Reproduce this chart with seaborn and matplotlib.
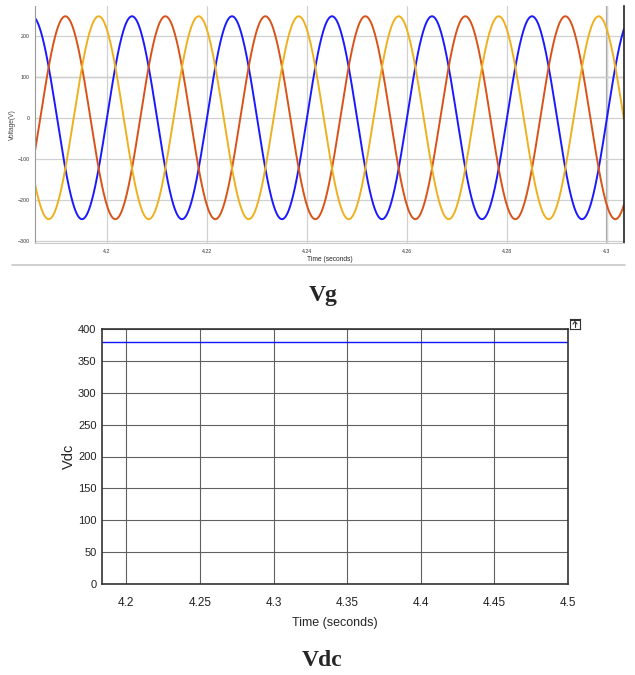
#!/usr/bin/env python3
"""
Grid voltage (three phase) and DC link voltage, two stacked scope views
"""

import numpy as np
import pandas as pd
import matplotlib
matplotlib.use('Agg')
import matplotlib.pyplot as plt
import seaborn as sns

# Three phase grid voltage
phase_names = ['Va', 'Vb', 'Vc']
phase_colors = ['#1a1aff', '#d95319', '#edb120']
phase_shift_deg = [0, -120, -240]
amplitude = 247          # V peak
freq_hz = 50
peak_time_a = 4.205      # first peak of phase a (s)
vg_window = [4.1856, 4.3034]
vg_yticks = [-300, -200, -100, 0, 100, 200]
vg_xticks = [4.2, 4.22, 4.24, 4.26, 4.28, 4.3]

# DC link voltage
vdc_time = [4.1835, 4.5]
vdc_value = [380, 380]
vdc_yticks = [0, 50, 100, 150, 200, 250, 300, 350, 400]
vdc_xticks = [4.2, 4.25, 4.3, 4.35, 4.4, 4.45, 4.5]

# build long-form frame for the sine waves
t = np.linspace(vg_window[0], vg_window[1], 3000)
frames = []
for name, shift in zip(phase_names, phase_shift_deg):
    v = amplitude * np.cos(2 * np.pi * freq_hz * (t - peak_time_a) + np.deg2rad(shift))
    frames.append(pd.DataFrame({'time': t, 'voltage': v, 'phase': name}))
vg = pd.concat(frames, ignore_index=True)
vdc = pd.DataFrame({'time': vdc_time, 'vdc': vdc_value})

sns.set_style('whitegrid')
plt.rcParams['font.family'] = ['Liberation Sans Narrow', 'Liberation Sans', 'DejaVu Sans']

fig = plt.figure(figsize=(6.35, 6.75), dpi=100)
W, H = 635, 675

def box(x0, y0, x1, y1):
    return [x0 / W, 1 - y1 / H, (x1 - x0) / W, (y1 - y0) / H]

# ---- top: Vg ----
ax1 = fig.add_axes(box(35, 6, 624, 243))
sns.lineplot(data=vg, x='time', y='voltage', hue='phase', palette=phase_colors,
             linewidth=1.4, legend=False, ax=ax1, estimator=None, sort=False)
ax1.set_xlim(vg_window)
ax1.set_ylim(-305, 272)
ax1.set_xticks(vg_xticks)
ax1.set_xticklabels([f'{x:g}' for x in vg_xticks])
ax1.set_yticks(vg_yticks)
ax1.tick_params(labelsize=3.8, length=2, pad=2, colors='#333333')
ax1.grid(True, color='#d0d0d0', linewidth=0.9)
ax1.set_xlabel('Time (seconds)', fontsize=4.8, labelpad=2)
ax1.set_ylabel('Voltage(V)', fontsize=4.8, labelpad=1, color='#444444')
ax1.spines['top'].set_visible(False)
ax1.spines['left'].set_color('#999999')
ax1.spines['bottom'].set_color('#cccccc')
ax1.spines['right'].set_color('#222222')
ax1.spines['right'].set_linewidth(1.2)
ax1.axvline(4.3, color='#aaaaaa', linewidth=1.6, zorder=0)
ax1.axhline(100, color='#999999', linewidth=0.9, zorder=0)

# separator line under the screenshot
fig.add_artist(plt.Line2D([12 / W, 625 / W], [1 - 265 / H] * 2, color='#c8c8c8', linewidth=1.2))

fig.text(323 / W, 1 - 296 / H, 'Vg', ha='center', va='center', fontsize=17,
         fontweight='bold', family=['Liberation Serif', 'DejaVu Serif'])

# ---- bottom: Vdc ----
ax2 = fig.add_axes(box(102, 329, 568, 584))
sns.lineplot(data=vdc, x='time', y='vdc', color='#1414ff', linewidth=1.0, ax=ax2)
ax2.set_xlim(vdc_time[0], 4.5)
ax2.set_ylim(0, 400)
ax2.set_xticks(vdc_xticks)
ax2.set_xticklabels([f'{x:g}' for x in vdc_xticks])
ax2.set_yticks(vdc_yticks)
ax2.grid(True, color='#606060', linewidth=0.8)
ax2.tick_params(labelsize=8, length=3, direction='in', pad=4, colors='#222222')
ax2.tick_params(axis='x', pad=9, labelsize=8.5)
ax2.set_xlabel('Time (seconds)', fontsize=9, labelpad=6)
ax2.set_ylabel('Vdc', fontsize=10.5, va='center')
ax2.yaxis.set_label_coords(-0.072, 0.5)
for s in ax2.spines.values():
    s.set_color('#333333')
    s.set_linewidth(1.2)

# small dock icon at the top right of the scope
icon = fig.add_axes(box(570, 319, 580, 329))
icon.set_xticks([])
icon.set_yticks([])
icon.set_facecolor('white')
for s in icon.spines.values():
    s.set_color('#333333')
icon.plot([0.5, 0.5], [0.2, 0.7], color='#333333', linewidth=0.8)
icon.plot([0.3, 0.5, 0.7], [0.5, 0.75, 0.5], color='#333333', linewidth=0.8)
icon.axhline(0.88, color='#333333', linewidth=0.8)
icon.set_xlim(0, 1)
icon.set_ylim(0, 1)

fig.text(322 / W, 1 - 660 / H, 'Vdc', ha='center', va='center', fontsize=17,
         fontweight='bold', family=['Liberation Serif', 'DejaVu Serif'])

fig.savefig('out.png', dpi=100)
